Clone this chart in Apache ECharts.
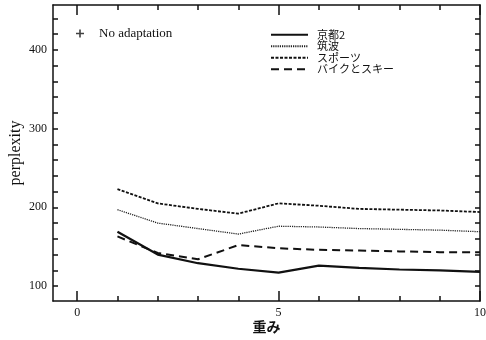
<!DOCTYPE html>
<html><head><meta charset="utf-8">
<script src="https://cdn.jsdelivr.net/npm/echarts@6/dist/echarts.min.js"></script>
<style>html,body{margin:0;padding:0;background:#fff}#c{width:486px;height:340px}</style>
</head><body><div id="c"></div>
<script>
const xValues = [1, 2, 3, 4, 5, 6, 7, 8, 9, 10];
const kyoto2 = [169, 140, 129, 122, 117, 126, 123, 121, 120, 118];
const tsukuba = [197, 180, 173, 166, 176, 175, 173, 172, 171, 169];
const sports = [223, 205, 198, 192, 205, 202, 198, 197, 196, 194];
const bikeSki = [163, 142, 134, 152, 148, 146, 145, 144, 143, 143];
const seriesNames = ['京都2', '筑波', 'スポーツ', 'バイクとスキー'];
const xTicks = [0, 1, 2, 3, 4, 5, 6, 7, 8, 9, 10];
const xMajor = [0, 5, 10];
const yTicks = [100, 120, 140, 160, 180, 200, 220, 240, 260, 280, 300, 320, 340, 360, 380, 400, 420, 440];
const yLabels = [100, 200, 300, 400];

const serif = '"Liberation Serif", "DejaVu Serif", serif';
const pair = arr => xValues.map((x, i) => [x, arr[i]]);
const XMIN = -0.6, XMAX = 10, YMIN = 81, YMAX = 457;

const chart = echarts.init(document.getElementById('c'), null, {renderer: 'canvas'});
const baseX = (extra) => Object.assign({
  type: 'value', min: XMIN, max: XMAX, splitLine: {show: false}
}, extra);
const baseY = (extra) => Object.assign({
  type: 'value', min: YMIN, max: YMAX, splitLine: {show: false}
}, extra);
const lineCol = '#111';

chart.setOption({
  animation: false,
  grid: {left: 53, right: 6, top: 5, bottom: 39, containLabel: false, outerBoundsMode: 'none'},
  legend: [{
    orient: 'vertical', left: 265, top: 24, itemWidth: 37, itemHeight: 10, itemGap: 0,
    data: seriesNames,
    itemStyle: {opacity: 0},
    textStyle: {fontFamily: '"Noto Sans CJK JP", ' + serif, fontSize: 11, lineHeight: 11.5, color: '#111', padding: [0, 0, 0, 4]}
  }, {
    orient: 'vertical', left: 71, top: 22, itemWidth: 8, itemHeight: 8,
    data: ['No adaptation'],
    textStyle: {fontFamily: serif, fontSize: 13, color: '#111', padding: [3, 0, 0, 10]}
  }],
  xAxis: [
    baseX({
      position: 'bottom',
      name: '重み', nameLocation: 'middle', nameGap: 19, nameMoveOverlap: false,
      nameTextStyle: {fontFamily: '"Noto Sans CJK JP", sans-serif', fontSize: 14, fontWeight: 'bold', color: '#111'},
      axisLine: {show: true, onZero: false, lineStyle: {color: lineCol, width: 1.5}},
      axisTick: {show: true, inside: true, length: 5, customValues: xTicks, lineStyle: {color: lineCol, width: 1.5}},
      axisLabel: {show: true, customValues: xMajor, margin: 6, fontFamily: serif, fontSize: 12, color: '#111'}
    }),
    baseX({
      position: 'bottom',
      axisLine: {show: false},
      axisTick: {show: true, inside: true, length: 10, customValues: xMajor, lineStyle: {color: lineCol, width: 1.5}},
      axisLabel: {show: false}
    }),
    baseX({
      position: 'top',
      axisLine: {show: true, onZero: false, lineStyle: {color: lineCol, width: 1.5}},
      axisTick: {show: true, inside: true, length: 5, customValues: xTicks, lineStyle: {color: lineCol, width: 1.5}},
      axisLabel: {show: false}
    }),
    baseX({
      position: 'top',
      axisLine: {show: false},
      axisTick: {show: true, inside: true, length: 10, customValues: xMajor, lineStyle: {color: lineCol, width: 1.5}},
      axisLabel: {show: false}
    })
  ],
  yAxis: [
    baseY({
      position: 'left',
      name: 'perplexity', nameLocation: 'middle', nameGap: 29, nameRotate: 90, nameMoveOverlap: false,
      nameTextStyle: {fontFamily: serif, fontSize: 16, color: '#111'},
      axisLine: {show: true, onZero: false, lineStyle: {color: lineCol, width: 1.5}},
      axisTick: {show: true, inside: true, length: 5, customValues: yTicks, lineStyle: {color: lineCol, width: 1.5}},
      axisLabel: {show: true, customValues: yLabels, margin: 6, fontFamily: serif, fontSize: 12, color: '#111'}
    }),
    baseY({
      position: 'right',
      axisLine: {show: true, onZero: false, lineStyle: {color: lineCol, width: 1.5}},
      axisTick: {show: true, inside: true, length: 5, customValues: yTicks, lineStyle: {color: lineCol, width: 1.5}},
      axisLabel: {show: false}
    })
  ],
  series: [
    {name: seriesNames[0], type: 'line', data: pair(kyoto2), symbol: 'none',
     lineStyle: {color: '#111', width: 2.2, type: 'solid'}, itemStyle: {color: '#111'}},
    {name: seriesNames[1], type: 'line', data: pair(tsukuba), symbol: 'none',
     lineStyle: {color: '#222', width: 1.3, type: [1.2, 1]}, itemStyle: {color: '#222'}},
    {name: seriesNames[2], type: 'line', data: pair(sports), symbol: 'none',
     lineStyle: {color: '#111', width: 1.8, type: [3, 1.5]}, itemStyle: {color: '#111'}},
    {name: seriesNames[3], type: 'line', data: pair(bikeSki), symbol: 'none',
     lineStyle: {color: '#111', width: 2, type: [8, 5]}, itemStyle: {color: '#111'}},
    {name: 'No adaptation', type: 'scatter', data: [],
     symbol: 'path://M4,0 L6,0 L6,4 L10,4 L10,6 L6,6 L6,10 L4,10 L4,6 L0,6 L0,4 L4,4 Z',
     symbolSize: 8, itemStyle: {color: '#111'}}
  ]
});
</script></body></html>
